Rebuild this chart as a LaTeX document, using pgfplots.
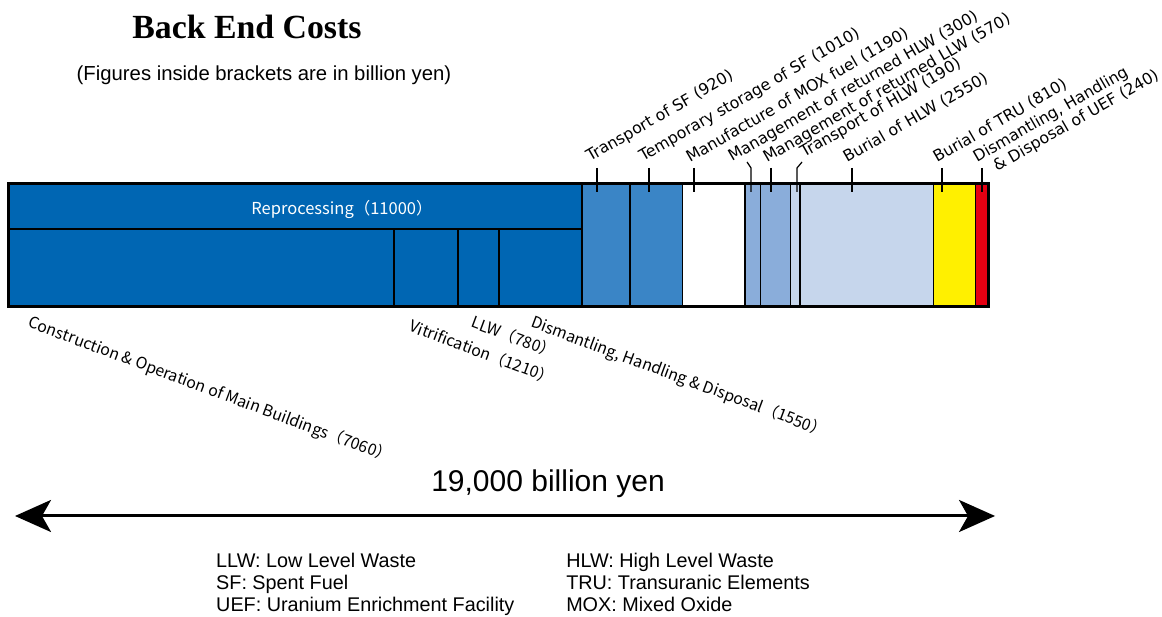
\documentclass[border=0pt]{standalone}
\usepackage{fontspec}
\usepackage{pgfplots}
\pgfplotsset{compat=1.18}
\usetikzlibrary{arrows.meta}
\setmainfont{Liberation Sans}
\newfontfamily\titlefont{Liberation Serif}
\newfontfamily\lblfont{DejaVu Sans}
\newfontfamily\jpfont{Noto Sans CJK JP}
\definecolor{cRep}{RGB}{0,102,179}
\definecolor{cSF}{RGB}{58,133,198}
\definecolor{cMid}{RGB}{138,173,218}
\definecolor{cLight}{RGB}{198,214,236}
\definecolor{cTRU}{RGB}{255,240,0}
\definecolor{cUEF}{RGB}{230,0,18}
\begin{document}
\begin{tikzpicture}
\begin{axis}[
  width=1162pt, height=617pt, scale only axis,
  xmin=-153.3, xmax=22114.4, ymin=0, ymax=617,
  axis lines=none, clip=false,
  every axis plot/.append style={no markers},
]
% --- main bar: upper part of reprocessing and the other nine segments
\addplot[fill=cRep, draw=black, line width=1.4pt] coordinates {(0,388) (11000,388) (11000,433) (0,433)} --cycle;
% reprocessing sub-items (lower part)
\addplot[fill=cRep, draw=black, line width=1.4pt] coordinates {(0,310) (7397,310) (7397,388) (0,388)} --cycle;
\addplot[fill=cRep, draw=black, line width=1.4pt] coordinates {(7397,310) (8624,310) (8624,388) (7397,388)} --cycle;
\addplot[fill=cRep, draw=black, line width=1.4pt] coordinates {(8624,310) (9410,310) (9410,388) (8624,388)} --cycle;
\addplot[fill=cRep, draw=black, line width=1.4pt] coordinates {(9410,310) (11000,310) (11000,388) (9410,388)} --cycle;
% other segments (cumulative: 920, 1010, 1190, 300, 570, 190, 2550, 810, 240)
\addplot[fill=cSF, draw=black, line width=1.4pt] coordinates {(11000,310) (11920,310) (11920,433) (11000,433)} --cycle;
\addplot[fill=cSF, draw=black, line width=1.4pt] coordinates {(11920,310) (12930,310) (12930,433) (11920,433)} --cycle;
\addplot[fill=white, draw=black, line width=1.4pt] coordinates {(12930,310) (14120,310) (14120,433) (12930,433)} --cycle;
\addplot[fill=cMid, draw=black, line width=1.4pt] coordinates {(14120,310) (14420,310) (14420,433) (14120,433)} --cycle;
\addplot[fill=cMid, draw=black, line width=1.4pt] coordinates {(14420,310) (14990,310) (14990,433) (14420,433)} --cycle;
\addplot[fill=cLight, draw=black, line width=1.4pt] coordinates {(14990,310) (15180,310) (15180,433) (14990,433)} --cycle;
\addplot[fill=cLight, draw=black, line width=1.4pt] coordinates {(15180,310) (17730,310) (17730,433) (15180,433)} --cycle;
\addplot[fill=cTRU, draw=black, line width=1.4pt] coordinates {(17730,310) (18540,310) (18540,433) (17730,433)} --cycle;
\addplot[fill=cUEF, draw=black, line width=1.4pt] coordinates {(18540,310) (18780,310) (18780,433) (18540,433)} --cycle;
% outer frame
\addplot[draw=black, line width=3pt] coordinates {(0,310) (18780,310) (18780,433) (0,433)} --cycle;

% leader ticks
\addplot[black, line width=1.2pt] coordinates {(11288,449) (11288,425)};
\addplot[black, line width=1.2pt] coordinates {(12284,449) (12284,425)};
\addplot[black, line width=1.2pt] coordinates {(13147,449) (13147,425)};
\addplot[black, line width=1.2pt] coordinates {(14162,455) (14239,449) (14239,425)};
\addplot[black, line width=1.2pt] coordinates {(14622,449) (14622,425)};
\addplot[black, line width=1.2pt] coordinates {(15216,455) (15120,449) (15120,425)};
\addplot[black, line width=1.2pt] coordinates {(16174,449) (16174,425)};
\addplot[black, line width=1.2pt] coordinates {(17899,449) (17899,425)};
\addplot[black, line width=1.2pt] coordinates {(18666,449) (18666,425)};

% texts
\node[font=\titlefont\bfseries\fontsize{33.8}{38}\selectfont] at (axis cs:4580,590) {Back End Costs};
\node[font=\fontsize{20.3}{24}\selectfont] at (axis cs:4906,542) {(Figures inside brackets are in billion yen)};
\node[font=\jpfont\fontsize{16.5}{19}\selectfont, text=white] at (axis cs:6401,407) {Reprocessing（11000）};

\begin{scope}[every node/.style={font=\lblfont\fontsize{15.8}{18}\selectfont, rotate=30, anchor=base west, inner sep=0pt}]
\node at (axis cs:11153,455) {Transport of SF\,\,(920)};
\node at (axis cs:12169,455) {Temporary storage of SF\,\,(1010)};
\node at (axis cs:13070,454) {Manufacture of MOX fuel\,\,(1190)};
\node at (axis cs:13875,455) {Management of returned HLW\,\,(300)};
\node at (axis cs:14545,454) {Management of returned LLW\,\,(570)};
\node at (axis cs:15255,459) {Transport of HLW\,\,(190)};
\node at (axis cs:16079,454) {Burial of HLW\,\,(2550)};
\node at (axis cs:17803,454) {Burial of TRU\,\,(810)};
\node at (axis cs:18570,454) {Dismantling, Handling};
\node at (axis cs:18953,445) {\& Disposal of UEF\,\,(240)};
\end{scope}

\begin{scope}[every node/.style={font=\jpfont\fontsize{15.9}{18}\selectfont, rotate=-20.5, anchor=north west, inner sep=0pt}]
\node at (axis cs:460,303) {Construction \& Operation of Main Buildings（7060）};
\node at (axis cs:7761,299) {Vitrification（1210）};
\node at (axis cs:8950,303) {LLW（780）};
\node at (axis cs:10099,303) {Dismantling, Handling \& Disposal（1550）};
\end{scope}

\node[font=\fontsize{30}{34}\selectfont] at (axis cs:10349,133) {19,000 billion yen};
\draw[line width=3pt, {Stealth[length=36pt,width=32pt,inset=9pt]}-{Stealth[length=36pt,width=32pt,inset=9pt]}] (axis cs:134,101) -- (axis cs:18915,101);

\begin{scope}[every node/.style={font=\fontsize{19.8}{22}\selectfont, anchor=base west, inner sep=0pt}]
\node at (axis cs:3986,49) {LLW: Low Level Waste};
\node at (axis cs:3986,27) {SF: Spent Fuel};
\node at (axis cs:3986,5) {UEF: Uranium Enrichment Facility};
\node at (axis cs:10694,49) {HLW: High Level Waste};
\node at (axis cs:10694,27) {TRU: Transuranic Elements};
\node at (axis cs:10694,5) {MOX: Mixed Oxide};
\end{scope}

\coordinate (bbSW) at (rel axis cs:0,0);
\coordinate (bbNE) at (rel axis cs:1,1);
\end{axis}
\pgfresetboundingbox
\path (bbSW) rectangle (bbNE);
\end{tikzpicture}
\end{document}
